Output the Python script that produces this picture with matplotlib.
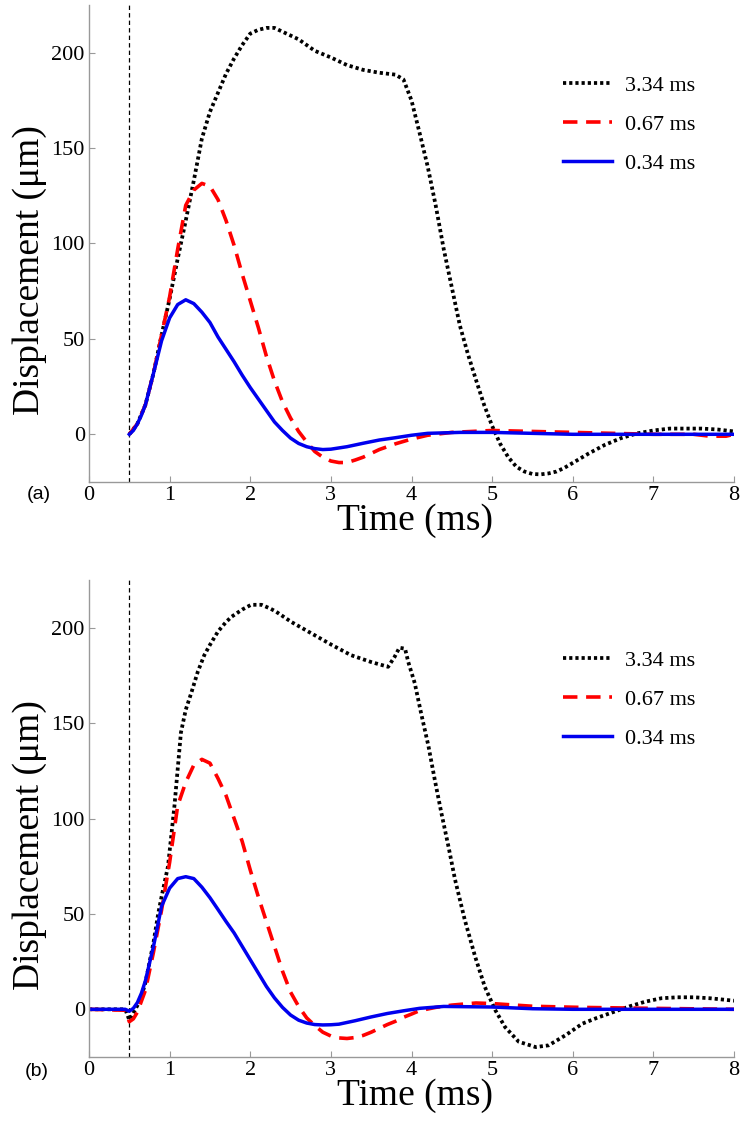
import matplotlib
matplotlib.use("agg")
import matplotlib.pyplot as plt

# ---- data (time in ms, displacement in um) ----
# panel (a)
ta_334 = [0.5, 0.6, 0.7, 0.8, 0.9, 1.0, 1.1, 1.2, 1.3, 1.4, 1.5, 1.6, 1.7, 1.8, 1.9,
          2.0, 2.1, 2.2, 2.3, 2.4, 2.5, 2.6, 2.7, 2.8, 3.0, 3.2, 3.4, 3.6, 3.8, 3.9,
          4.0, 4.1, 4.2, 4.3, 4.4, 4.5, 4.6, 4.7, 4.8, 4.9, 5.0, 5.1, 5.2, 5.3, 5.4,
          5.5, 5.6, 5.7, 5.8, 5.9, 6.0, 6.2, 6.4, 6.6, 6.8, 7.0, 7.2, 7.4, 7.6, 7.8, 8.0]
ya_334 = [0, 5.5, 15.5, 32, 52, 71, 92, 112, 133, 155, 169, 179, 189, 197, 204,
          210, 212, 213, 213, 211, 209, 207, 204, 201, 197.5, 193.5, 191, 189.5, 188.5, 186,
          175, 158, 140.5, 120, 97, 77, 57, 42, 28.5, 15.5, 4.4, -5, -12, -17, -19.5,
          -20.8, -21, -20.5, -19.5, -17.5, -15, -10, -5.5, -2, 0.5, 2, 3, 3, 3, 2.5, 1.5]

ta_067 = [0.5, 0.6, 0.7, 0.8, 0.9, 1.0, 1.1, 1.2, 1.3, 1.4, 1.5, 1.6, 1.7, 1.8, 1.9,
          2.0, 2.1, 2.2, 2.3, 2.4, 2.5, 2.6, 2.7, 2.8, 2.9, 3.0, 3.1, 3.2, 3.3, 3.4,
          3.5, 3.6, 3.8, 4.0, 4.2, 4.5, 5.0, 5.5, 6.0, 6.5, 7.0, 7.5, 7.7, 7.9, 8.0]
ya_067 = [0, 5.5, 15.5, 32, 52, 72, 97, 120, 128, 131.5, 130, 123, 112, 99, 84,
          70, 56, 41, 28, 17, 8.5, 1.5, -4, -9, -12, -14, -14.8, -14.8, -13.5, -12,
          -10, -8, -5, -2.5, -0.5, 1, 2, 1.5, 1, 0.5, 0, 0, -1, -1, 0]

ta_034 = [0.5, 0.55, 0.6, 0.65, 0.7, 0.8, 0.9, 1.0, 1.1, 1.2, 1.3, 1.4, 1.5, 1.6, 1.7,
          1.8, 1.9, 2.0, 2.1, 2.2, 2.3, 2.4, 2.5, 2.6, 2.7, 2.8, 2.9, 3.0, 3.2, 3.4,
          3.6, 3.8, 4.0, 4.2, 4.6, 5.0, 5.5, 6.0, 7.0, 8.0]
ya_034 = [0, 2, 5.5, 10, 15.5, 32, 49, 61, 68, 70.5, 68.5, 64, 58.6, 51, 44.5,
          38, 31, 24.5, 18.5, 12.5, 6.5, 2, -2, -4.8, -6.5, -7.5, -8, -7.8, -6.5, -4.7,
          -3, -1.8, -0.5, 0.5, 1, 1, 0.5, 0, 0, 0]

# panel (b)
tb_334 = [0, 0.45, 0.5, 0.55, 0.6, 0.65, 0.7, 0.8, 0.86, 0.9, 0.98, 1.06, 1.14, 1.2,
          1.27, 1.35, 1.43, 1.5, 1.6, 1.7, 1.77, 1.9, 2.01, 2.14, 2.25, 2.32, 2.51,
          2.76, 3.01, 3.25, 3.5, 3.71, 3.79, 3.85, 3.92, 3.96, 4.04, 4.12, 4.21, 4.29,
          4.37, 4.46, 4.54, 4.66, 4.79, 4.91, 5.04, 5.16, 5.33, 5.54, 5.7, 5.91, 6.12,
          6.3, 6.5, 6.7, 6.9, 7.1, 7.3, 7.5, 7.7, 8.0]
yb_334 = [0, 0, -5.6, -2, 2, 6.7, 14, 35, 50.5, 59, 75, 106.7, 145, 157,
          166, 177, 185.6, 191, 198, 203, 205.8, 209.5, 212, 212, 210, 208.4, 203,
          197, 191, 185.6, 182, 179.5, 184.7, 189.5, 189, 182, 171, 155, 138, 120,
          103, 85, 68, 47, 27.5, 11.7, -0.5, -9.3, -17, -19.8, -18.9, -13.6, -7.5,
          -4.5, -1.5, 1.5, 4, 5.8, 6.3, 6.3, 5.8, 4.5]

tb_067 = [0, 0.45, 0.5, 0.55, 0.6, 0.7, 0.8, 0.85, 0.9, 1.0, 1.1, 1.2, 1.3, 1.4, 1.5,
          1.6, 1.7, 1.8, 1.9, 2.0, 2.1, 2.2, 2.3, 2.4, 2.5, 2.6, 2.7, 2.8, 2.9, 3.0,
          3.1, 3.2, 3.3, 3.4, 3.5, 3.6, 3.7, 3.8, 3.9, 4.0, 4.1, 4.3, 4.5, 4.8, 5.0,
          5.5, 6.1, 7.0, 8.0]
yb_067 = [0, -0.5, -6.5, -5, -1.5, 10, 30, 41, 52, 77, 106.7, 119, 128, 131, 129,
          121, 112, 100, 88, 73, 59, 46, 33, 20, 9, 1.5, -4.5, -8.5, -12, -14,
          -15, -15.3, -14.8, -13.7, -12, -10, -8, -6.3, -4.2, -2.5, -0.7, 1, 2.2, 3.3, 3,
          1.6, 1, 0.5, 0]

tb_034 = [0, 0.45, 0.5, 0.55, 0.6, 0.65, 0.7, 0.77, 0.8, 0.9, 1.0, 1.1, 1.2, 1.3, 1.4,
          1.5, 1.6, 1.7, 1.8, 1.9, 2.0, 2.1, 2.2, 2.3, 2.4, 2.5, 2.6, 2.7, 2.8, 2.9,
          3.0, 3.1, 3.3, 3.5, 3.7, 3.9, 4.1, 4.4, 5.0, 5.5, 6.0, 8.0]
yb_034 = [0, 0, -1, 0.5, 3.5, 8.4, 15, 27.7, 33, 54, 63.5, 68.5, 69.5, 68.5, 64,
          58.5, 52.3, 46, 40, 33, 26, 19, 12, 6, 1, -3, -5.7, -7.2, -8, -8.2,
          -8.1, -7.8, -6, -4, -2.2, -0.8, 0.5, 1.5, 1.2, 0.3, 0, 0]

labels = ["3.34 ms", "0.67 ms", "0.34 ms"]
panel_tags = ["(a)", "(b)"]
stim_onset = 0.5

serif = ["Liberation Serif", "DejaVu Serif"]
sans = ["Liberation Sans", "DejaVu Sans"]
plt.rcParams["font.family"] = serif

fig = plt.figure(figsize=(7.5, 11.25), dpi=100)
ax_a = fig.add_axes([89 / 750, 1 - 482 / 1125, 645 / 750, 477 / 1125])
ax_b = fig.add_axes([89 / 750, 1 - 1057 / 1125, 645 / 750, 477 / 1125])

panels = [
    (ax_a, [(ta_334, ya_334), (ta_067, ya_067), (ta_034, ya_034)]),
    (ax_b, [(tb_334, yb_334), (tb_067, yb_067), (tb_034, yb_034)]),
]

for ax, series in panels:
    (t1, y1), (t2, y2), (t3, y3) = series
    ax.axvline(stim_onset, color="black", lw=0.9, linestyle=(0, (3.5, 2.5)))
    ax.plot(t1, y1, color="black", lw=2.7, linestyle=(0, (0.85, 0.8)),
            dash_capstyle="butt", label=labels[0])
    ax.plot(t2, y2, color="#ff0000", lw=2.6, linestyle=(0, (4, 2.4)),
            dash_capstyle="butt", label=labels[1])
    ax.plot(t3, y3, color="#0000ee", lw=2.5, label=labels[2])

    ax.set_xlim(0, 8)
    ax.set_ylim(-25, 225)
    ax.set_xticks(range(0, 9))
    ax.set_yticks([0, 50, 100, 150, 200])
    for side in ("top", "right"):
        ax.spines[side].set_visible(False)
    for side in ("left", "bottom"):
        ax.spines[side].set_color("#999999")
        ax.spines[side].set_linewidth(1.0)
    ax.tick_params(direction="in", length=4, width=0.8, color="#999999",
                   labelsize=16, pad=3)
    ax.set_xlabel("Time (ms)", fontsize=27)
    ax.set_ylabel("Displacement (μm)", fontsize=27)
    ax.xaxis.set_label_coords(0.505, -0.045)
    ax.yaxis.set_label_coords(-0.065, 0.444)

    ax.legend(loc="upper left", bbox_to_anchor=(0.735, 0.853), frameon=False,
              fontsize=16, handlelength=2.2, handletextpad=0.6, labelspacing=0.83,
              borderpad=0, borderaxespad=0)

fig.text(39 / 750, 1 - 495 / 1125, panel_tags[0], family=sans, fontsize=14,
         ha="center", va="center")
fig.text(37 / 750, 1 - 1071 / 1125, panel_tags[1], family=sans, fontsize=14,
         ha="center", va="center")

fig.savefig("out.png", dpi=100, facecolor="white")
